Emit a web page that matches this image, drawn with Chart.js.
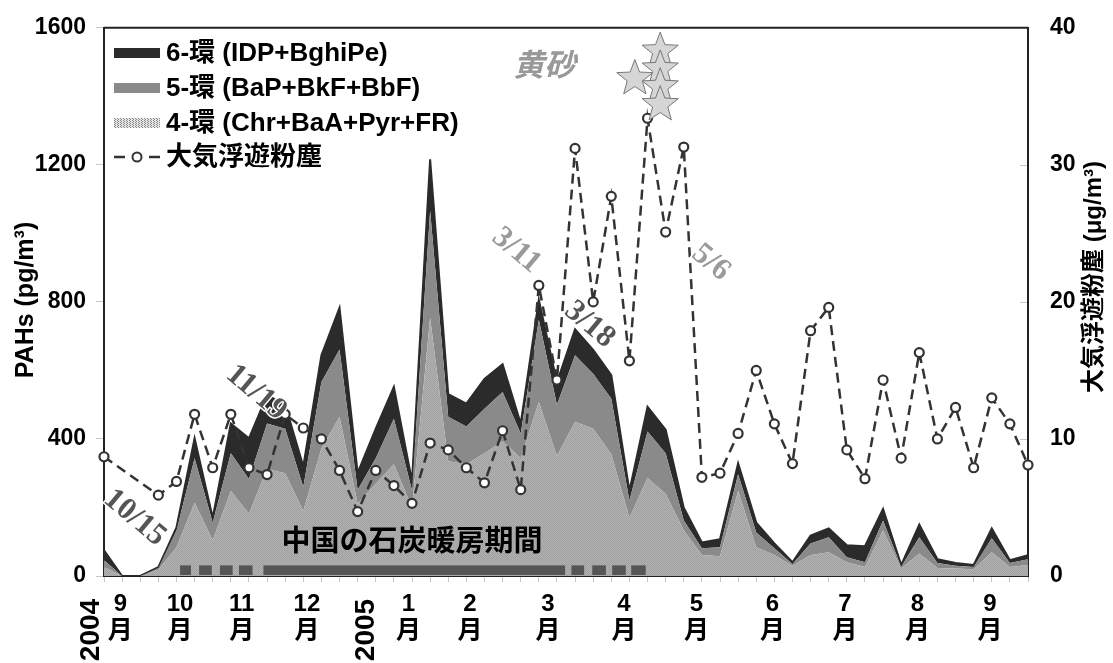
<!DOCTYPE html>
<html>
<head>
<meta charset="utf-8">
<script src="https://cdn.jsdelivr.net/npm/chart.js@4.4.1/dist/chart.umd.min.js"></script>
<style>
  html, body { margin: 0; padding: 0; background: #fff; }
  #wrap { width: 1113px; height: 663px; }
</style>
</head>
<body>
<div id="wrap"><canvas id="pahChart"></canvas></div>
<script>
// weekly samples, Sep 2004 - Sep 2005
const weeks = [1, 2, 3, 4, 5, 6, 7, 8, 9, 10, 11, 12, 13, 14, 15, 16, 17, 18, 19, 20, 21, 22, 23, 24, 25, 26,
               27, 28, 29, 30, 31, 32, 33, 34, 35, 36, 37, 38, 39, 40, 41, 42, 43, 44, 45, 46, 47, 48, 49, 50, 51, 52];

// PAHs (pg/m3), stacked
const ring4 = [26, 0, 0, 18, 84, 214, 104, 248, 182, 312, 300, 190, 372, 465, 211, 269, 326, 200, 754, 335,
               326, 358, 393, 344, 508, 350, 450, 430, 355, 170, 286, 240, 133, 61, 58, 248, 84, 61, 30, 61,
               69, 40, 26, 133, 22, 66, 23, 22, 20, 69, 26, 32];
const ring5 = [20, 0, 0, 5, 49, 130, 52, 110, 101, 133, 130, 70, 194, 196, 40, 75, 133, 50, 312, 130,
               110, 130, 144, 72, 240, 150, 194, 160, 162, 50, 136, 118, 29, 20, 26, 49, 43, 20, 5, 34,
               44, 15, 14, 29, 5, 47, 15, 8, 6, 41, 12, 17];
const ring6 = [29, 0, 0, 3, 9, 58, 14, 87, 119, 83, 70, 60, 78, 122, 50, 86, 93, 27, 150, 66,
               67, 87, 81, 29, 58, 65, 76, 70, 69, 28, 72, 69, 37, 17, 23, 32, 29, 14, 5, 23,
               26, 35, 47, 34, 5, 37, 11, 8, 6, 29, 8, 12];
// 大気浮遊粉塵 (ug/m3)
const dust = [8.7, null, null, 5.9, 6.9, 11.8, 7.9, 11.8, 7.9, 7.4, 11.8, 10.8, 10.0, 7.7, 4.7, 7.7, 6.6, 5.3, 9.7, 9.2,
              7.9, 6.8, 10.6, 6.3, 21.2, 14.3, 31.2, 20.0, 27.7, 15.7, 33.4, 25.1, 31.3, 7.2, 7.5, 10.4, 15.0, 11.1, 8.2, 17.9,
              19.6, 9.2, 7.1, 14.3, 8.6, 16.3, 10.0, 12.3, 7.9, 13.0, 11.1, 8.1];

// x-axis labels (week index where each month label sits)
const monthNames = ['9', '10', '11', '12', '1', '2', '3', '4', '5', '6', '7', '8', '9'];
const monthIdx = [0.9, 4.2, 7.6, 11.2, 16.8, 20.2, 24.5, 28.7, 32.7, 36.9, 40.9, 44.9, 48.9];
const yearNames = ['2004', '2005'];
const yearIdx = [-0.7, 14.5];

// annotations
const eventDates = ['10/15', '11/19', '3/11', '3/18', '5/6'];
const eventIdx = [1.7, 8.4, 22.76, 26.8, 33.5];
const eventVal = [170, 535, 950, 734, 915];
const eventDark = [true, true, false, true, false];
const starIdx = [29.3, 30.7, 30.7, 30.7, 30.7];
const starVal = [36.3, 38.3, 37.0, 35.7, 34.4];
const heatingWeeks = [[4.2, 4.8], [5.25, 5.95], [6.4, 7.1], [7.45, 8.2], [8.8, 25.45],
                      [25.8, 26.5], [26.95, 27.7], [28.05, 28.8], [29.1, 29.9]];

const SANS = '"Liberation Sans", "Noto Sans CJK JP", Arial, sans-serif';
const SERIF = '"Liberation Serif", "Times New Roman", serif';

function dither(c1, c2) {
  const p = document.createElement('canvas');
  p.width = 2; p.height = 2;
  const g = p.getContext('2d');
  g.fillStyle = c1; g.fillRect(0, 0, 2, 2);
  g.fillStyle = c2; g.fillRect(0, 0, 1, 1); g.fillRect(1, 1, 1, 1);
  return g.createPattern(p, 'repeat');
}

function stripes() {
  const p = document.createElement('canvas');
  p.width = 3; p.height = 2;
  const g = p.getContext('2d');
  g.fillStyle = '#e4e4e4'; g.fillRect(0, 0, 3, 2);
  g.fillStyle = '#8a8a8a'; g.fillRect(0, 0, 1, 1); g.fillRect(1, 1, 1, 1);
  return g.createPattern(p, 'repeat');
}

const ring4Fill = dither('#b0b0b0', '#a2a2a2');

function drawStar(ctx, cx, cy, R, r) {
  ctx.beginPath();
  for (let k = 0; k < 10; k++) {
    const a = -Math.PI / 2 + k * Math.PI / 5;
    const rad = k % 2 ? r : R;
    ctx.lineTo(cx + rad * Math.cos(a), cy + rad * Math.sin(a));
  }
  ctx.closePath();
  ctx.fill();
  ctx.stroke();
}

const decorations = {
  id: 'decorations',
  afterDatasetsDraw(chart) {
    const ctx = chart.ctx;
    const x = chart.scales.x, y = chart.scales.y, y1 = chart.scales.y1;
    ctx.save();

    // heating period bars
    ctx.fillStyle = '#555';
    heatingWeeks.forEach(([a, b]) => {
      const x0 = x.getPixelForValue(a), x1 = x.getPixelForValue(b);
      const top = y.getPixelForValue(31), bot = y.getPixelForValue(3);
      ctx.fillRect(x0, top, x1 - x0, bot - top);
    });

    ctx.textAlign = 'center';
    ctx.textBaseline = 'middle';
    ctx.fillStyle = '#000';
    ctx.font = 'bold 29px ' + SANS;
    ctx.fillText('中国の石炭暖房期間', x.getPixelForValue(17.0), y.getPixelForValue(95));

    // event dates
    ctx.font = 'bold 31px ' + SERIF;
    eventDates.forEach((t, i) => {
      ctx.save();
      ctx.translate(x.getPixelForValue(eventIdx[i]), y.getPixelForValue(eventVal[i]));
      ctx.rotate(40 * Math.PI / 180);
      ctx.lineWidth = 3;
      ctx.strokeStyle = '#fff';
      ctx.strokeText(t, 0, 0);
      ctx.fillStyle = eventDark[i] ? '#555' : '#9a9a9a';
      ctx.fillText(t, 0, 0);
      ctx.restore();
    });

    // 黄砂
    ctx.font = 'italic bold 31px ' + SANS;
    ctx.fillStyle = '#999';
    ctx.fillText('黄砂', x.getPixelForValue(24.3), y.getPixelForValue(1484));

    // stars
    ctx.fillStyle = '#d6d6d6';
    ctx.strokeStyle = '#777';
    ctx.lineWidth = 1;
    starIdx.forEach((s, i) => {
      drawStar(ctx, x.getPixelForValue(s), y1.getPixelForValue(starVal[i]), 19, 8);
    });
    ctx.restore();
  },
  afterDraw(chart) {
    const ctx = chart.ctx;
    const ca = chart.chartArea;
    const x = chart.scales.x, y1 = chart.scales.y1;
    ctx.save();

    // frame top + inward right ticks
    ctx.strokeStyle = '#222';
    ctx.lineWidth = 2;
    ctx.beginPath();
    ctx.moveTo(ca.left, ca.top); ctx.lineTo(ca.right, ca.top);
    ctx.stroke();
    ctx.strokeStyle = '#c8c8c8';
    ctx.lineWidth = 1;
    [10, 20, 30].forEach(v => {
      const py = Math.round(y1.getPixelForValue(v)) + 0.5;
      ctx.beginPath(); ctx.moveTo(ca.right - 8, py); ctx.lineTo(ca.right - 1, py); ctx.stroke();
    });

    // month labels
    ctx.fillStyle = '#000';
    ctx.textAlign = 'center';
    ctx.textBaseline = 'middle';
    monthNames.forEach((m, i) => {
      const px = x.getPixelForValue(monthIdx[i]);
      ctx.font = 'bold 24px ' + SANS;
      ctx.fillText(m, px, 604);
      ctx.font = 'bold 25px ' + SANS;
      ctx.fillText('月', px, 631);
    });
    ctx.font = 'bold 28px ' + SANS;
    yearNames.forEach((t, i) => {
      ctx.save();
      ctx.translate(x.getPixelForValue(yearIdx[i]), 630);
      ctx.rotate(-Math.PI / 2);
      ctx.fillText(t, 0, 0);
      ctx.restore();
    });

    // axis titles
    ctx.font = 'bold 25px ' + SANS;
    ctx.save();
    ctx.translate(26, 300);
    ctx.rotate(-Math.PI / 2);
    ctx.fillText('PAHs (pg/m³)', 0, 0);
    ctx.restore();
    ctx.font = 'bold 24px ' + SANS;
    ctx.save();
    ctx.translate(1094, 277);
    ctx.rotate(-Math.PI / 2);
    ctx.fillText('大気浮遊粉塵 (μg/m³)', 0, 0);
    ctx.restore();

    // legend
    const lx = ca.left + 10, lw = 46, tx = lx + lw + 6;
    const rows = [53, 88, 123, 157];
    const names = ['6-環 (IDP+BghiPe)', '5-環 (BaP+BkF+BbF)', '4-環 (Chr+BaA+Pyr+FR)', '大気浮遊粉塵'];
    ctx.fillStyle = '#2b2b2b'; ctx.fillRect(lx, rows[0] - 5, lw, 10);
    ctx.fillStyle = '#8a8a8a'; ctx.fillRect(lx, rows[1] - 5, lw, 10);
    ctx.fillStyle = stripes(); ctx.fillRect(lx, rows[2] - 5, lw, 10);
    ctx.strokeStyle = '#333';
    ctx.lineWidth = 2.5;
    ctx.beginPath();
    ctx.moveTo(lx, rows[3]); ctx.lineTo(lx + 11, rows[3]);
    ctx.moveTo(lx + 35, rows[3]); ctx.lineTo(lx + lw, rows[3]);
    ctx.stroke();
    ctx.fillStyle = '#fff';
    ctx.lineWidth = 2;
    ctx.beginPath(); ctx.arc(lx + lw / 2, rows[3], 4.5, 0, Math.PI * 2); ctx.fill(); ctx.stroke();
    ctx.fillStyle = '#000';
    ctx.textAlign = 'left';
    ctx.font = 'bold 26px ' + SANS;
    names.forEach((n, i) => ctx.fillText(n, tx, rows[i] + 1));
    ctx.restore();
  }
};

const ctx = document.getElementById('pahChart').getContext('2d');

const pahChart = new Chart(ctx, {
  type: 'line',
  data: {
    labels: weeks,
    datasets: [
      {
        label: '4-環 (Chr+BaA+Pyr+FR)',
        data: ring4,
        backgroundColor: ring4Fill,
        borderWidth: 0,
        borderColor: 'rgba(0,0,0,0)',
        fill: 'origin',
        pointRadius: 0,
        order: 1
      },
      {
        label: '5-環 (BaP+BkF+BbF)',
        data: ring5,
        backgroundColor: '#8a8a8a',
        borderWidth: 0,
        borderColor: 'rgba(0,0,0,0)',
        fill: '-1',
        pointRadius: 0,
        order: 1
      },
      {
        label: '6-環 (IDP+BghiPe)',
        data: ring6,
        backgroundColor: '#2b2b2b',
        borderColor: '#2b2b2b',
        borderWidth: 2,
        fill: '-1',
        pointRadius: 0,
        order: 1
      },
      {
        label: '大気浮遊粉塵',
        data: dust,
        yAxisID: 'y1',
        borderColor: '#333',
        borderWidth: 2.5,
        borderDash: [10, 6],
        pointRadius: 4.5,
        pointBackgroundColor: '#fff',
        pointBorderColor: '#333',
        pointBorderWidth: 2.2,
        spanGaps: true,
        fill: false,
        order: 0
      }
    ]
  },
  options: {
    responsive: true,
    maintainAspectRatio: false,
    animation: false,
    layout: { padding: { top: 22, left: 0, right: 0, bottom: 0 } },
    elements: { line: { tension: 0 } },
    plugins: {
      legend: { display: false },
      tooltip: { enabled: false }
    },
    scales: {
      x: {
        offset: false,
        grid: { drawOnChartArea: false, tickLength: 6, color: '#c8c8c8' },
        border: { color: '#222', width: 2 },
        ticks: { autoSkip: false, maxRotation: 0, callback: () => '' },
        afterFit: s => { s.height = 87; }
      },
      y: {
        stacked: true,
        min: 0,
        max: 1600,
        grid: { drawOnChartArea: false, tickLength: 8, color: '#c8c8c8' },
        border: { color: '#222', width: 2 },
        ticks: { stepSize: 400, padding: 10, color: '#000', callback: v => String(v),
                 font: { family: SANS, size: 23, weight: 'bold' } },
        afterFit: s => { s.width = 104; }
      },
      y1: {
        position: 'right',
        min: 0,
        max: 40,
        grid: { display: false },
        border: { color: '#222', width: 2 },
        ticks: { stepSize: 10, padding: 14, color: '#000', callback: v => String(v),
                 font: { family: SANS, size: 23, weight: 'bold' } },
        afterFit: s => { s.width = 85; }
      }
    }
  },
  plugins: [decorations]
});
</script>
</body>
</html>
